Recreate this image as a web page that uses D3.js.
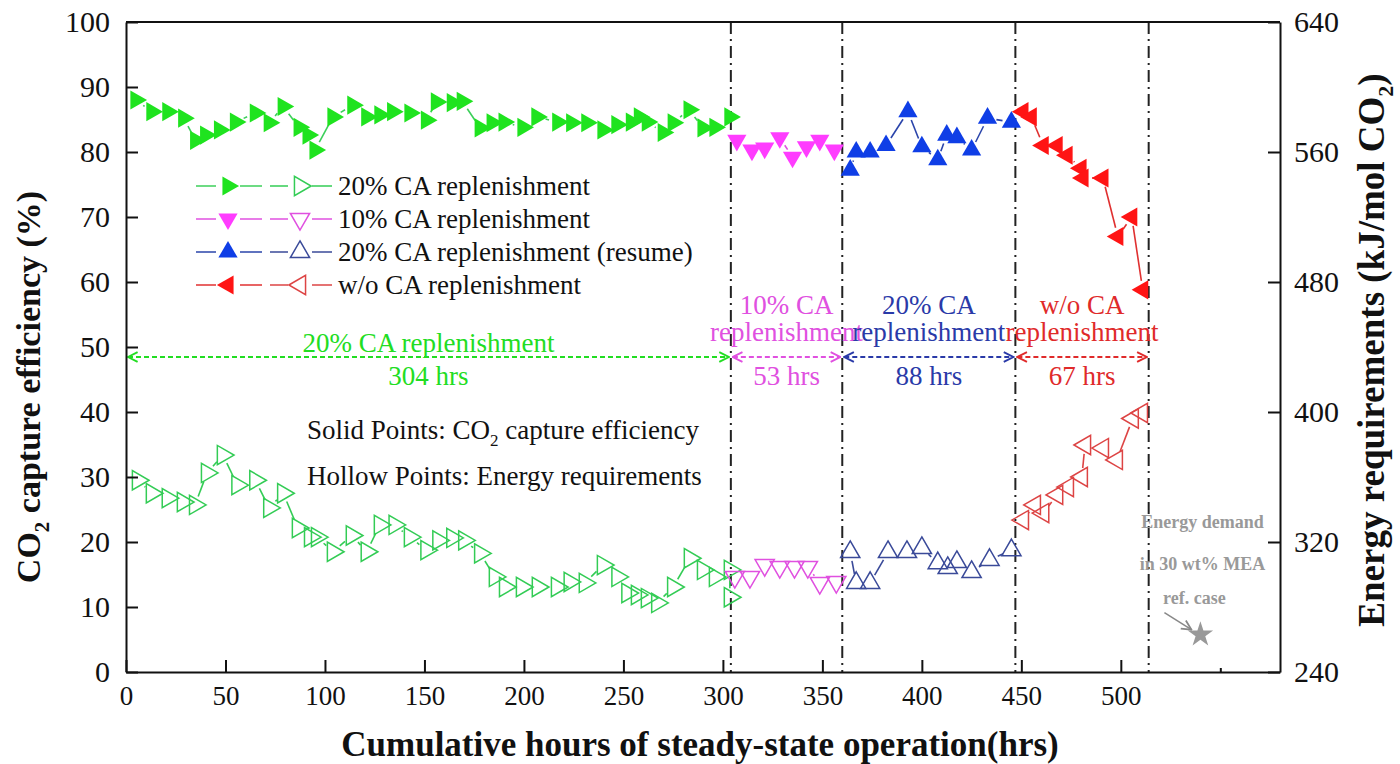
<!DOCTYPE html>
<html>
<head>
<meta charset="utf-8">
<script src="https://cdn.jsdelivr.net/npm/d3@7"></script>
<style>
  body { margin: 0; background: #fff; }
  text { font-family: "Liberation Serif", "Times New Roman", serif; }
</style>
</head>
<body>
<svg id="chart" width="1400" height="764"></svg>
<script>
// Data: hours and values per stage
var greenHrs  = [5, 13, 21, 29, 35, 40, 47, 55, 65, 72, 79, 87, 91.5, 95, 104, 114, 121, 127.6, 134, 142.7, 151, 156, 164, 169, 178, 184, 190, 199.5, 206.5, 217, 224, 231.6, 239.7, 246.7, 254, 258, 262, 270, 275, 283, 290, 296, 303.5];
var greenEff  = [88, 86.2, 86.2, 85.2, 81.8, 82.6, 83.4, 84.6, 86, 84.5, 87, 83.8, 82.6, 80.3, 85.4, 87.2, 85.4, 85.7, 86.2, 86, 84.9, 87.7, 87.6, 87.8, 83.7, 84.5, 84.6, 83.8, 85.4, 84.6, 84.5, 84.5, 83.4, 84.2, 84.6, 85.4, 84.6, 83, 84.5, 86.5, 83.7, 83.8, 85.4];
var greenEHrs = [6, 13, 21, 28.6, 34.7, 40.7, 48.7, 56, 65, 72, 79, 86.4, 92.5, 96, 104, 113.5, 121, 127.6, 135, 142.7, 151, 157, 164, 170, 178, 185.4, 190.5, 199, 207, 216.6, 223, 230.6, 239.7, 247, 252, 256.8, 261.8, 267, 275, 283.4, 290, 296, 303.5, 303.5];
var greenEnergy = [358, 350, 347, 344.6, 342.8, 362.5, 373.5, 355, 358, 341, 350, 328.6, 323, 323, 314, 324, 314, 330.5, 330.5, 323, 315, 321, 322.5, 321, 313, 298.5, 292.3, 292.3, 292.3, 292.3, 295.4, 294.8, 305.8, 298.5, 288.6, 287.4, 285.5, 282.5, 292.3, 310, 302.8, 298.5, 302.8, 286];

var magentaHrs = [307, 314.6, 321, 328.6, 335, 342, 348.7, 356];
var magentaEff = [81.8, 80.3, 80.6, 82.2, 79.2, 80.8, 81.8, 80.3];
var magentaEHrs = [306, 313.6, 321, 328.6, 336, 342.7, 348.7, 357];
var magentaEnergy = [298.5, 298.5, 305.8, 304.6, 304.6, 304.6, 294.8, 295.4];

var blueHrs = [364, 367, 374, 382, 393, 400, 408, 412.5, 417.6, 425, 433, 445];
var blueEff = [77.2, 80, 80, 81, 86.2, 80.8, 78.8, 82.6, 82.2, 80.3, 85.2, 84.6];
var blueEHrs = [364, 367, 374, 383, 392.5, 400, 408, 413, 417.6, 425, 434, 445];
var blueEnergy = [313.8, 294.8, 294.8, 313.8, 313.8, 316.3, 307, 304, 307.7, 301.5, 309, 315];

var redHrs = [450.8, 455, 461, 468, 473, 480, 481, 491, 498.5, 505.5, 511];
var redEff = [86.2, 85.4, 81, 81, 79.5, 77.5, 76, 76, 67, 70, 58.8];
var redEHrs = [450.8, 456.8, 461, 468, 473.4, 480.4, 482, 491, 498, 506, 510.6];
var redEnergy = [333.5, 342.8, 337.8, 349, 353.8, 360, 379.7, 377.8, 370.5, 396, 399.4];

var stageBounds = [0, 304, 360, 447, 514];
var stageNames = ["20% CA replenishment", "10% CA replenishment", "20% CA replenishment (resume)", "w/o CA replenishment"];
var stageHours = ["304 hrs", "53 hrs", "88 hrs", "67 hrs"];
var refHr = 540, refEnergy = 263;

var xTicks = [0, 50, 100, 150, 200, 250, 300, 350, 400, 450, 500, 550];
var yTicks = [0, 10, 20, 30, 40, 50, 60, 70, 80, 90, 100];
var y2Ticks = [240, 320, 400, 480, 560, 640];

var svg = d3.select("#chart");
var pLeft = 126, pRight = 1280, pTop = 22, pBottom = 672;

var x = d3.scaleLinear().domain([0, 580]).range([pLeft, pRight]);
var y = d3.scaleLinear().domain([0, 100]).range([pBottom, pTop]);
var y2 = d3.scaleLinear().domain([240, 640]).range([pBottom, pTop]);

var series = [
  {hrs: greenHrs, eff: greenEff, eh: greenEHrs, en: greenEnergy, rot: 90,
   fill: "#1fe31f", line: "#3ccf5a", hollow: "#33cc55"},
  {hrs: magentaHrs, eff: magentaEff, eh: magentaEHrs, en: magentaEnergy, rot: 180,
   fill: "#ff3cff", line: "#e050e0", hollow: "#e050e0"},
  {hrs: blueHrs, eff: blueEff, eh: blueEHrs, en: blueEnergy, rot: 0,
   fill: "#0f3ee6", line: "#2a44aa", hollow: "#3a4a99"},
  {hrs: redHrs, eff: redEff, eh: redEHrs, en: redEnergy, rot: 270,
   fill: "#ff1414", line: "#e03030", hollow: "#dd4444"}
];
var labelColors = ["#22dd22", "#e050e0", "#2a3aa8", "#e02a2a"];

var tri = d3.symbol().type(d3.symbolTriangle).size(160);

// connecting lines with a gap around each marker
function gapLines(g, pts, color) {
  var gap = 9;
  for (var i = 1; i < pts.length; i++) {
    var a = pts[i - 1], b = pts[i];
    var dx = b[0] - a[0], dy = b[1] - a[1], d = Math.sqrt(dx * dx + dy * dy);
    if (d <= 2 * gap + 1) continue;
    var ux = dx / d, uy = dy / d;
    g.append("line")
      .attr("x1", a[0] + ux * gap).attr("y1", a[1] + uy * gap)
      .attr("x2", b[0] - ux * gap).attr("y2", b[1] - uy * gap)
      .attr("stroke", color).attr("stroke-width", 1.6);
  }
}

// stage dividers
svg.append("g").selectAll("line")
  .data(stageBounds.slice(1))
  .enter().append("line")
    .attr("x1", d => x(d)).attr("x2", d => x(d))
    .attr("y1", pTop).attr("y2", pBottom)
    .attr("stroke", "#222").attr("stroke-width", 2)
    .attr("stroke-dasharray", "12,5,2,5");

// stage arrows and labels
var defs = svg.append("defs");
series.forEach(function(s, i) {
  defs.append("marker").attr("id", "arr" + i)
    .attr("viewBox", "0 0 10 10").attr("refX", 9).attr("refY", 5)
    .attr("markerWidth", 12).attr("markerHeight", 12).attr("markerUnits", "userSpaceOnUse")
    .attr("orient", "auto-start-reverse")
    .append("path").attr("d", "M1,1 L9,5 L1,9")
    .attr("fill", "none").attr("stroke", labelColors[i]).attr("stroke-width", 1.6);
});
var ann = svg.append("g");
stageHours.forEach(function(h, i) {
  var x0 = x(stageBounds[i]), x1 = x(stageBounds[i + 1]), cx = (x0 + x1) / 2;
  ann.append("line")
    .attr("x1", x0 + 2).attr("x2", x1 - 2).attr("y1", 357).attr("y2", 357)
    .attr("stroke", labelColors[i]).attr("stroke-width", 2)
    .attr("stroke-dasharray", "5,3")
    .attr("marker-start", "url(#arr" + i + ")").attr("marker-end", "url(#arr" + i + ")");
  var lines = i === 0 ? ["20% CA replenishment"] :
    i === 3 ? ["w/o CA", "replenishment"] : [stageNames[i].split(" replenishment")[0], "replenishment"];
  lines.forEach(function(t, k) {
    ann.append("text")
      .attr("x", cx).attr("y", i === 0 ? 352 : 314 + k * 27)
      .attr("text-anchor", "middle").attr("font-size", 27)
      .attr("fill", labelColors[i]).text(t);
  });
  ann.append("text").attr("x", cx).attr("y", 385)
    .attr("text-anchor", "middle").attr("font-size", 27)
    .attr("fill", labelColors[i]).text(h);
});

// data series
series.forEach(function(s) {
  var g = svg.append("g");
  var solid = s.hrs.map((h, k) => [x(h), y(s.eff[k])]);
  var hollow = s.eh.map((h, k) => [x(h), y2(s.en[k])]);
  gapLines(g, solid, s.line);
  gapLines(g, hollow, s.hollow);
  g.selectAll(".solid").data(solid).enter().append("path")
    .attr("d", tri)
    .attr("transform", d => "translate(" + d[0] + "," + d[1] + ") rotate(" + s.rot + ")")
    .attr("fill", s.fill);
  g.selectAll(".hollow").data(hollow).enter().append("path")
    .attr("d", tri)
    .attr("transform", d => "translate(" + d[0] + "," + d[1] + ") rotate(" + s.rot + ")")
    .attr("fill", "none").attr("stroke", s.hollow).attr("stroke-width", 1.5);
});

// reference star and note
var star = d3.symbol().type(d3.symbolStar).size(200);
svg.append("path").attr("d", star)
  .attr("transform", "translate(" + x(refHr) + "," + y2(refEnergy) + ")")
  .attr("fill", "#999");
defs.append("marker").attr("id", "arrGray")
  .attr("viewBox", "0 0 10 10").attr("refX", 9).attr("refY", 5)
  .attr("markerWidth", 12).attr("markerHeight", 12).attr("markerUnits", "userSpaceOnUse")
  .attr("orient", "auto")
  .append("path").attr("d", "M1,1 L9,5 L1,9")
  .attr("fill", "none").attr("stroke", "#888").attr("stroke-width", 1.5);
svg.append("line")
  .attr("x1", x(refHr) - 36).attr("y1", y2(refEnergy) - 22)
  .attr("x2", x(refHr) - 9).attr("y2", y2(refEnergy) - 5)
  .attr("stroke", "#888").attr("stroke-width", 1.5).attr("marker-end", "url(#arrGray)");
["Energy demand", "in 30 wt% MEA", "ref. case"].forEach(function(t, k) {
  svg.append("text").attr("x", x(refHr) + (k === 2 ? -6 : 2)).attr("y", [528, 570, 604][k])
    .attr("text-anchor", "middle").attr("font-size", 18).attr("font-weight", "bold")
    .attr("fill", "#999").text(t);
});

// legend
var legend = svg.append("g").attr("transform", "translate(0,186)");
series.forEach(function(s, i) {
  var r = legend.append("g").attr("transform", "translate(0," + (i * 33) + ")");
  r.append("line").attr("x1", 196).attr("x2", 262).attr("stroke", s.line).attr("stroke-width", 1.6);
  r.append("line").attr("x1", 270).attr("x2", 332).attr("stroke", s.hollow).attr("stroke-width", 1.6);
  r.append("rect").attr("x", 216).attr("y", -10).attr("width", 24).attr("height", 20).attr("fill", "#fff");
  r.append("rect").attr("x", 288).attr("y", -10).attr("width", 24).attr("height", 20).attr("fill", "#fff");
  r.append("path").attr("d", tri).attr("transform", "translate(228,0) rotate(" + s.rot + ")").attr("fill", s.fill);
  r.append("path").attr("d", tri).attr("transform", "translate(300,0) rotate(" + s.rot + ")")
    .attr("fill", "none").attr("stroke", s.hollow).attr("stroke-width", 1.5);
  r.append("text").attr("x", 338).attr("y", 9).attr("font-size", 27).attr("fill", "#111").text(stageNames[i]);
});

var note = svg.append("g").attr("font-size", 27).attr("fill", "#111");
var n1 = note.append("text").attr("x", 307).attr("y", 439);
n1.append("tspan").text("Solid Points: CO");
n1.append("tspan").attr("font-size", 17).attr("dy", 7).text("2");
n1.append("tspan").attr("dy", -7).text(" capture efficiency");
note.append("text").attr("x", 307).attr("y", 485).text("Hollow Points: Energy requirements");

// axes
var xAxis = d3.axisBottom(x).tickValues(xTicks).tickSizeInner(-12).tickSizeOuter(0).tickPadding(14)
  .tickFormat(d => d <= 500 ? d : "");
var yAxis = d3.axisLeft(y).tickValues(yTicks).tickSizeInner(-12).tickSizeOuter(0).tickPadding(16);
var y2Axis = d3.axisRight(y2).tickValues(y2Ticks).tickSizeInner(-12).tickSizeOuter(0).tickPadding(14);

function styleAxis(g, size) {
  g.selectAll("path, line").attr("stroke", "#111").attr("stroke-width", 2);
  g.selectAll("text").attr("font-size", size).attr("fill", "#111")
    .style("font-family", "'Liberation Serif', serif");
}
var gx = svg.append("g").attr("transform", "translate(0," + pBottom + ")").call(xAxis).call(styleAxis, 27);
// the tick past the last label is only a stub in the original
gx.selectAll(".tick").filter(d => d > 500).select("line").attr("y2", -4);
svg.append("g").attr("transform", "translate(" + pLeft + ",0)").call(yAxis).call(styleAxis, 30);
svg.append("g").attr("transform", "translate(" + pRight + ",0)").call(y2Axis).call(styleAxis, 30);
svg.append("line").attr("x1", pLeft).attr("x2", pRight).attr("y1", pTop).attr("y2", pTop)
  .attr("stroke", "#111").attr("stroke-width", 2);

// axis titles
svg.append("text").attr("x", 700).attr("y", 756).attr("text-anchor", "middle")
  .attr("font-size", 35).attr("font-weight", "bold").attr("fill", "#111")
  .text("Cumulative hours of steady-state operation(hrs)");
var yt = svg.append("text").attr("transform", "translate(40,387) rotate(-90)")
  .attr("text-anchor", "middle").attr("font-size", 34).attr("font-weight", "bold").attr("fill", "#111");
yt.append("tspan").text("CO");
yt.append("tspan").attr("font-size", 21).attr("dy", 9).text("2");
yt.append("tspan").attr("dy", -9).text(" capture efficiency (%)");
var y2t = svg.append("text").attr("transform", "translate(1384,350) rotate(-90)")
  .attr("text-anchor", "middle").attr("font-size", 37).attr("font-weight", "bold").attr("fill", "#111");
y2t.append("tspan").text("Energy requirements (kJ/mol CO");
y2t.append("tspan").attr("font-size", 22).attr("dy", 9).text("2");
y2t.append("tspan").attr("dy", -9).text(")");
</script>
</body>
</html>
